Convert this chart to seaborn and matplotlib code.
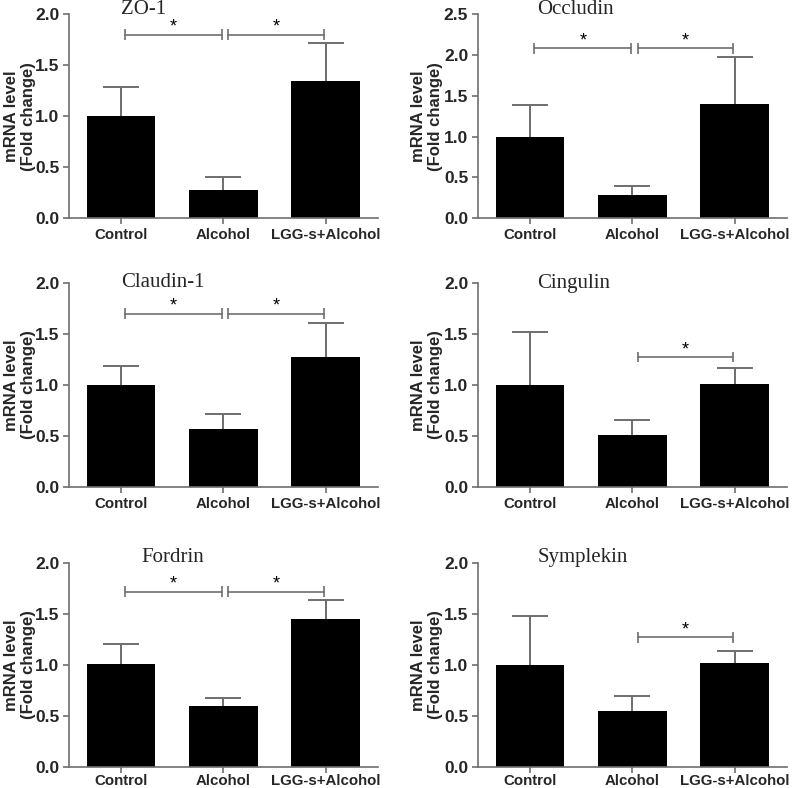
import numpy as np
import pandas as pd
import matplotlib
matplotlib.use('Agg')
import matplotlib.pyplot as plt
import seaborn as sns

#=====DATA=====
groups = ["Control", "Alcohol", "LGG-s+Alcohol"]

zo1_mean = [1.00, 0.28, 1.35]
zo1_err = [0.29, 0.12, 0.37]
occludin_mean = [1.00, 0.29, 1.40]
occludin_err = [0.39, 0.11, 0.57]
claudin_mean = [1.00, 0.57, 1.27]
claudin_err = [0.19, 0.15, 0.34]
cingulin_mean = [1.00, 0.51, 1.01]
cingulin_err = [0.52, 0.15, 0.16]
fordrin_mean = [1.01, 0.60, 1.45]
fordrin_err = [0.20, 0.08, 0.19]
symplekin_mean = [1.00, 0.55, 1.02]
symplekin_err = [0.48, 0.15, 0.12]

# significance brackets: (from group, to group) and height
zo1_sig = [(0, 1), (1, 2)]
occludin_sig = [(0, 1), (1, 2)]
claudin_sig = [(0, 1), (1, 2)]
cingulin_sig = [(1, 2)]
fordrin_sig = [(0, 1), (1, 2)]
symplekin_sig = [(1, 2)]
sig_height = [1.80, 2.08, 1.70, 1.27, 1.72, 1.27]

titles = ["ZO-1", "Occludin", "Claudin-1", "Cingulin", "Fordrin", "Symplekin"]
ymax = [2.0, 2.5, 2.0, 2.0, 2.0, 2.0]

#=====STYLE=====
sns.set_style("ticks")
plt.rcParams['font.family'] = ['Liberation Sans', 'DejaVu Sans']
GRAY = "#6e6e6e"

fig = plt.figure(figsize=(7.92, 7.88), dpi=100)

# axes boxes [left, bottom, width, height] in figure fraction
boxes = [
    [0.087, 0.723, 0.390, 0.259],
    [0.6035, 0.723, 0.390, 0.259],
    [0.087, 0.382, 0.390, 0.259],
    [0.6035, 0.382, 0.390, 0.259],
    [0.087, 0.0266, 0.390, 0.259],
    [0.6035, 0.0266, 0.390, 0.259],
]
# title anchor (x in data, y in data)
title_pos = [(0.0, 2.05), (0.07, 2.56), (0.0, 2.0), (0.07, 1.99), (0.2, 2.05), (0.07, 2.05)]
# ylabel right edge, axes fraction
label_x = [-0.105, -0.113, -0.105, -0.113, -0.105, -0.113]

panels = [
    (zo1_mean, zo1_err, zo1_sig),
    (occludin_mean, occludin_err, occludin_sig),
    (claudin_mean, claudin_err, claudin_sig),
    (cingulin_mean, cingulin_err, cingulin_sig),
    (fordrin_mean, fordrin_err, fordrin_sig),
    (symplekin_mean, symplekin_err, symplekin_sig),
]

for i, (means, errs, sigs) in enumerate(panels):
    ax = fig.add_axes(boxes[i])
    df = pd.DataFrame({"group": groups, "value": means})
    sns.barplot(data=df, x="group", y="value", color="black", width=0.67,
                edgecolor="black", linewidth=0, saturation=1, errorbar=None, ax=ax)
    xs = np.arange(len(groups))
    _, caps, _ = ax.errorbar(xs, means, yerr=[np.zeros(len(errs)), errs], fmt="none",
                             ecolor=GRAY, elinewidth=1.4, capsize=13, capthick=1.4, zorder=5)
    # upper caps only
    for cl in caps:
        if np.allclose(cl.get_ydata(), means):
            cl.set_visible(False)

    # significance brackets
    h = sig_height[i]
    unit = ymax[i] / 2.0
    dy = 0.05 * unit
    for (a, b) in sigs:
        x0 = a + (0.04 if a == 0 else 0.05)
        x1 = b - (0.01 if b == 1 else 0.02)
        ax.plot([x0, x1], [h, h], color=GRAY, lw=1.2, clip_on=False)
        ax.vlines([x0, x1], h - dy, h + dy, color=GRAY, lw=1.2, clip_on=False)
        ax.text((x0 + x1) / 2, h + 0.075 * unit, "*", ha="center", va="center",
                fontsize=13, color="black")

    ax.text(title_pos[i][0], title_pos[i][1], titles[i], ha="left", va="center",
            fontsize=15, family=["Liberation Serif", "DejaVu Serif"], clip_on=False)

    ax.set_xlim(-0.51, 2.51)
    ax.set_ylim(0, ymax[i])
    ticks = np.arange(0, ymax[i] + 0.01, 0.5)
    ax.set_yticks(ticks)
    ax.set_yticklabels([f"{v:.1f}" for v in ticks], fontweight="bold", fontsize=12.5)
    ax.set_xticks(xs)
    ax.set_xticklabels(groups, fontweight="bold", fontsize=10.8)
    ax.set_xlabel("")
    ax.set_ylabel("mRNA level\n(Fold change)", fontweight="bold", fontsize=12,
                  linespacing=1.2)
    ax.yaxis.set_label_coords(label_x[i], 0.5)
    for s in ["top", "right"]:
        ax.spines[s].set_visible(False)
    for s in ["left", "bottom"]:
        ax.spines[s].set_color(GRAY)
        ax.spines[s].set_linewidth(1.2)
    ax.tick_params(axis="both", color=GRAY, length=4, width=1.2, pad=3)
    if i >= 4:
        ax.tick_params(axis="x", pad=1)

fig.savefig("out.png", dpi=100)
